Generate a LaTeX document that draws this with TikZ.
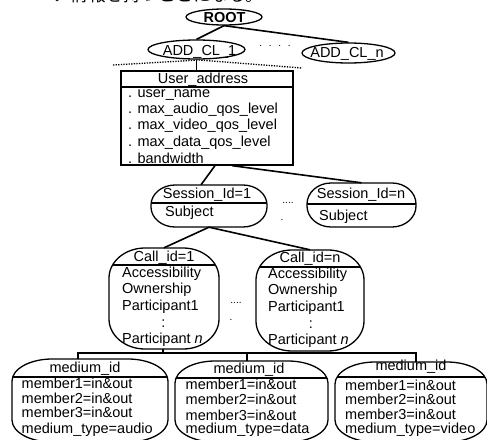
\documentclass[tikz,border=0pt]{standalone}
\usepackage{fontspec}
\usetikzlibrary{shapes.geometric}
\setmainfont{Liberation Sans}
\newfontfamily\cjk{Noto Sans CJK JP}
\tikzset{
  x=1pt,y=-1pt,
  ell/.style={draw,ellipse,line width=1.3pt,inner sep=0pt},
  rbox/.style={draw,rectangle,line width=1.3pt,inner sep=0pt},
  outline/.style={line width=1.3pt},
  link/.style={line width=1.6pt},
  thin link/.style={line width=1.2pt},
  rule/.style={line width=1.2pt},
  lab/.style={font=\fontsize{14.5}{15}\selectfont,inner sep=0pt,anchor=base west},
  mid/.style={font=\fontsize{14.5}{15}\selectfont,inner sep=0pt,anchor=base},
  dotsl/.style={font=\fontsize{10}{10}\selectfont,inner sep=0pt,anchor=base},
}
\newcommand{\ubar}{\_}
% name, x0, y0, x1, y1, rx, ry, divider y
\newcommand{\softbox}[8]{%
  \pgfmathsetmacro{\cxx}{(#2+#4)/2}%
  \pgfmathsetmacro{\cyy}{(#3+#5)/2}%
  \pgfmathsetmacro{\ww}{#4-#2}%
  \pgfmathsetmacro{\hh}{#5-#3}%
  \pgfmathsetmacro{\kx}{0.45*#6}%
  \pgfmathsetmacro{\ky}{0.45*#7}%
  \pgfmathsetmacro{\ax}{#2+#6}%
  \pgfmathsetmacro{\bx}{#4-#6}%
  \pgfmathsetmacro{\ay}{#3+#7}%
  \pgfmathsetmacro{\by}{#5-#7}%
  \pgfmathsetmacro{\ins}{#6*(1-sqrt(max(0,1-((#7-(#8-#3))/#7)^2)))}%
  \node[minimum width=\ww pt,minimum height=\hh pt,inner sep=0pt] (#1) at (\cxx,\cyy) {};
  \draw[outline] (\ax,#3) -- (\bx,#3)
    .. controls (#4-\kx,#3) and (#4,#3+\ky) .. (#4,\ay) -- (#4,\by)
    .. controls (#4,#5-\ky) and (#4-\kx,#5) .. (\bx,#5) -- (\ax,#5)
    .. controls (#2+\kx,#5) and (#2,#5-\ky) .. (#2,\by) -- (#2,\ay)
    .. controls (#2,#3+\ky) and (#2+\kx,#3) .. (\ax,#3) -- cycle;
  \draw[rule] (#2+\ins,#8) -- (#4-\ins,#8);
}
\begin{document}
\begin{tikzpicture}
\useasboundingbox (0,0) rectangle (487,439);
\begin{scope}
\clip (0,0) rectangle (487,439);
\node[inner sep=0pt,anchor=base west,font=\cjk\fontsize{17.5}{18}\selectfont] (head) at (53,1.5) {ノ情報を持つことになる。};
% top ellipses
\node[ell,minimum width=76pt,minimum height=16pt] (root) at (224,17) {};
\node[mid,font=\bfseries\fontsize{14.5}{15}\selectfont] (roott) at (224.5,23) {ROOT};
\node[ell,minimum width=97pt,minimum height=19pt] (add1) at (196.5,49.5) {};
\node[mid] (add1t) at (199.5,55) {ADD\ubar CL\ubar 1};
\node[ell,minimum width=93pt,minimum height=20pt] (addn) at (348.5,53) {};
\node[mid] (addnt) at (347,57) {ADD\ubar CL\ubar n};
\node[dotsl] (d1) at (275,46) {.\,\,\,\,.\,\,\,\,.\,\,\,\,.};
\draw[link] (root.south) -- (addn.north);
\draw[link] (root.south) -- (add1.north);
% user box
\node[rbox,minimum width=172pt,minimum height=94pt] (user) at (207,118) {};
\draw[rule] (user.west |- 0,87) -- (user.east |- 0,87);
\coordinate (dotl) at (113,65);
\coordinate (dotm) at (199,60);
\coordinate (dotr) at (302,68);
\draw[line width=1.3pt,dash pattern=on 1.3pt off 1.3pt] (dotl) -- (dotm) -- (dotr);
\draw[thin link] (add1.south) -- (user.north -| add1.south);
\node[mid] (ut) at (203,83) {User\ubar address};
\node[lab] (u1) at (128,97) {. user\ubar name};
\node[lab] (u2) at (128,113) {. max\ubar audio\ubar qos\ubar level};
\node[lab] (u3) at (128,129) {. max\ubar video\ubar qos\ubar level};
\node[lab] (u4) at (128,146) {. max\ubar data\ubar qos\ubar level};
\node[lab] (u5) at (128,163) {. bandwidth};
% sessions
\softbox{s1}{151}{185}{267}{227}{24}{20}{203}
\node[mid] (s1a) at (207,198) {Session\ubar Id=1};
\node[lab] (s1b) at (165,216) {Subject};
\softbox{sn}{307}{183}{416}{227}{24}{21}{204}
\node[mid] (sna) at (361,198) {Session\ubar Id=n};
\node[lab] (snb) at (319,220) {Subject};
\node[dotsl] (d2) at (288,203) {....};
\node[dotsl] (d3) at (282,220) {.};
\coordinate (u0) at ([xshift=25pt]user.south);
\draw[link] ([xshift=8pt]user.south) -- ([xshift=-8pt]s1.north);
\draw[link] (u0) -- (sn.north);
% calls
\softbox{c1}{109}{248}{219}{349}{36}{30}{265}
\node[mid] (c1a) at (164,261) {Call\ubar id=1};
\node[lab] (c1b) at (122,277) {Accessibility};
\node[lab] (c1c) at (122,293) {Ownership};
\node[lab] (c1d) at (122,310) {Participant1};
\node[mid] (c1e) at (163.5,327) {:};
\node[lab] (c1f) at (122,343) {Participant \textit{n}};
\softbox{cn}{256}{250}{364}{351}{36}{30}{267}
\node[mid] (cna) at (310,262) {Call\ubar id=n};
\node[lab] (cnb) at (268,278) {Accessibility};
\node[lab] (cnc) at (268,294) {Ownership};
\node[lab] (cnd) at (268,311) {Participant1};
\node[mid] (cne) at (311,328) {:};
\node[lab] (cnf) at (268,344) {Participant \textit{n}};
\node[dotsl] (d4) at (236,303) {....};
\node[dotsl] (d5) at (231,320) {.};
\draw[link] (s1.south) -- (c1.north);
\draw[link] (s1.south) -- (cn.north);
% media
\softbox{m1}{12}{359}{168}{442}{40}{22}{377}
\softbox{m2}{175}{361}{328}{442}{40}{22}{378}
\softbox{m3}{335}{362}{487}{442}{40}{22}{377}
\foreach \nm/\cx/\lx/\tya/\ya/\yb/\yc/\yd/\ty in {a/85/21.5/372/388/403/417/433/audio,b/249/185.5/373/389/404/420/433/data,c/411/345/370/390/404/419/433/video}{
  \node[mid] (t\nm) at (\cx,\tya) {medium\ubar id};
  \node[lab] (t\nm1) at (\lx,\ya) {member1=in\&out};
  \node[lab] (t\nm2) at (\lx,\yb) {member2=in\&out};
  \node[lab] (t\nm3) at (\lx,\yc) {member3=in\&out};
  \node[lab] (t\nm4) at (\lx,\yd) {medium\ubar type=\ty};
}
\coordinate (b1) at ([xshift=-12pt]m1.north);
\coordinate (b2) at ([xshift=-4.5pt]m2.north);
\coordinate (b3) at ([xshift=5pt]m3.north);
\coordinate (bus) at (163,353);
\draw[thin link] (c1.south -| bus) -- (bus);
\draw[thin link] (b1) |- (bus) -| (b3);
\draw[thin link] (b2) -- (b2 |- bus);
\end{scope}
\end{tikzpicture}
\end{document}
